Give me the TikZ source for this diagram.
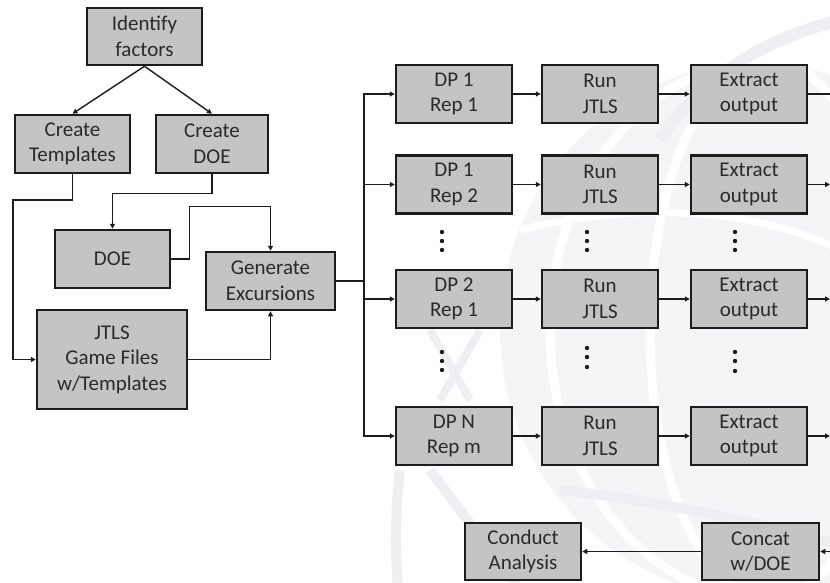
\documentclass[tikz,border=0pt]{standalone}
\usepackage{fontspec}
\setmainfont{Carlito}
\usetikzlibrary{arrows.meta,calc}
\definecolor{boxfill}{RGB}{196,196,196}
\definecolor{boxline}{RGB}{28,28,28}
\definecolor{txt}{RGB}{42,42,42}
\definecolor{globe}{RGB}{245,245,248}
\definecolor{globeline}{RGB}{239,239,243}
\begin{document}
\begin{tikzpicture}[x=1pt,y=-1pt,
  procbox/.style={draw=boxline,fill=boxfill,line width=2.5pt,inner sep=0pt,align=center,text=txt,
    font=\fontsize{21}{25.5}\selectfont,minimum width=116pt,minimum height=58pt},
  conn/.style={draw=boxline,line width=1.4pt},
  arr/.style={conn,-{Triangle[length=5pt,width=5pt]}},
  dotmark/.style={fill=boxline}]
\useasboundingbox (0,0) rectangle (830,582);
% faint globe watermark
\begin{scope}
  \clip (0,0) rectangle (830,582);
  \fill[globe] (770,330) circle (270);
  \draw[white,line width=9pt] (770,330) ellipse (120 and 270);
  \draw[white,line width=9pt] (770,330) ellipse (220 and 270);
  \draw[white,line width=7pt] (520,230) .. controls (640,200) and (760,210) .. (840,250);
  \draw[globeline,line width=12pt] (840,20) .. controls (760,40) and (700,80) .. (660,140);
  \draw[globeline,line width=10pt] (400,470) .. controls (395,510) and (395,550) .. (398,590);
  \draw[globeline,line width=10pt] (430,470) -- (520,590);
  \draw[globeline,line width=10pt] (560,490) .. controls (650,500) and (750,520) .. (840,545);
  \draw[globeline,line width=8pt] (430,330) -- (470,400);
  \draw[globeline,line width=8pt] (480,330) -- (440,400);
\end{scope}
% left part
\node[procbox,minimum width=115pt,minimum height=57pt] (idf) at (144.5,36.5) {Identify\\factors};
\node[procbox,minimum width=115pt] (ctp) at (72.5,144) {Create\\Templates};
\node[procbox,minimum width=112pt] (cdoe) at (212,144) {Create\\DOE};
\node[procbox,minimum width=115pt] (doe) at (112.5,259) {DOE};
\node[procbox,minimum width=129pt] (gen) at (270.5,281) {Generate\\Excursions};
\node[procbox,minimum width=150pt,minimum height=99pt] (jtls) at (112,359.5) {JTLS\\Game Files\\w/Templates};
% right grid
\node[procbox] (dp1) at (454,94) {DP 1\\Rep 1};
\node[procbox] (run1) at (600,94) {Run\\JTLS};
\node[procbox] (ext1) at (749,94) {Extract\\output};
\node[procbox] (dp2) at (454,184.5) {DP 1\\Rep 2};
\node[procbox] (run2) at (600,184.5) {Run\\JTLS};
\node[procbox] (ext2) at (749,184.5) {Extract\\output};
\node[procbox] (dp3) at (454,299) {DP 2\\Rep 1};
\node[procbox] (run3) at (600,299) {Run\\JTLS};
\node[procbox] (ext3) at (749,299) {Extract\\output};
\node[procbox] (dp4) at (454,436) {DP N\\Rep m};
\node[procbox] (run4) at (600,436) {Run\\JTLS};
\node[procbox] (ext4) at (749,436) {Extract\\output};
% bottom
\node[procbox,minimum height=57pt] (con) at (523,551.5) {Conduct\\Analysis};
\node[procbox,minimum width=117pt,minimum height=57pt] (cat) at (760.5,551.5) {Concat\\w/DOE};
% connectors left
\draw[arr] (idf.south) -- (ctp.north);
\draw[arr] (idf.south) -- (cdoe.north);
\draw[arr] (ctp.south) -- (ctp.south |- 0,200) -- (13,200) |- (jtls.west);
\draw[arr] (cdoe.south) -- ++(0,19) -| (doe.north);
\draw[arr] (doe.east) -- ++(18,0) |- ($(gen.north)+(0,-44)$) -- (gen.north);
\draw[arr] (jtls.east) -| (gen.south);
\coordinate (trunk) at (364,281);
\draw[conn] (gen.east) -- (trunk);
\foreach \r in {1,2,3,4}{
  \draw[arr] (trunk) |- (dp\r.west);
  \draw[arr] (dp\r.east) -- (run\r.west);
  \draw[arr] (run\r.east) -- (ext\r.west);
}
\coordinate (o1) at (832,94);
\coordinate (o2) at (830,184.5);
\coordinate (o3) at (830,299);
\coordinate (o4) at (830,436);
\draw[conn] (ext1.east) -- (o1);
\draw[arr] (ext2.east) -- (o2);
\draw[arr] (ext3.east) -- (o3);
\draw[arr] (ext4.east) -- (o4);
\coordinate (cin) at (834,551.5);
\draw[arr] (cin) -- (cat.east);
\draw[arr] (cat.west) -- (con.east);
% vertical ellipsis dots
\foreach \x in {442,587,735}{
  \foreach \y in {232,241,250}{\fill[dotmark] (\x,\y) circle (2.2);}
}
\foreach \y in {352,361,370}{\fill[dotmark] (442,\y) circle (2.2);}
\foreach \y in {348,357,367}{\fill[dotmark] (587,\y) circle (2.2);}
\foreach \y in {352,361,371}{\fill[dotmark] (735,\y) circle (2.2);}
\end{tikzpicture}
\end{document}
